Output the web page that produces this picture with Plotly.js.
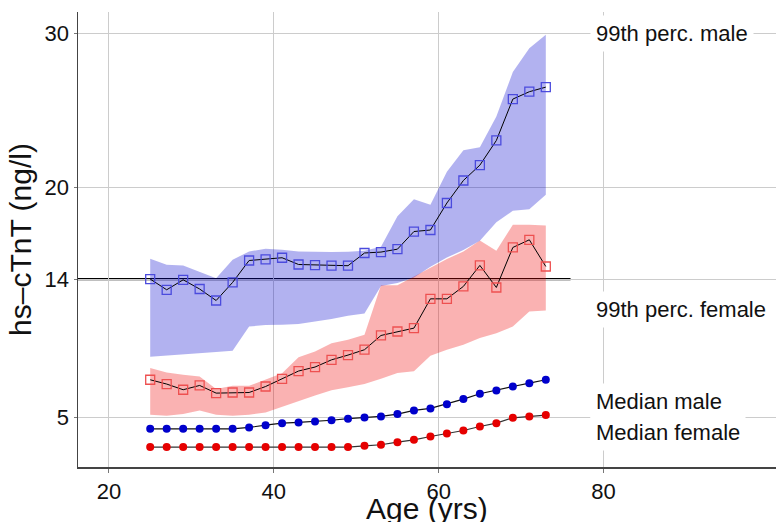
<!DOCTYPE html>
<html>
<head>
<meta charset="utf-8">
<script src="https://cdn.plot.ly/plotly-3.0.1.min.js"></script>
<style>html,body{margin:0;padding:0;background:#fff;}#chart{width:776px;height:522px;}</style>
</head>
<body>
<div id="chart"></div>
<script>
// Age groups (years)
const ages = [25,27,29,31,33,35,37,39,41,43,45,47,49,51,53,55,57,59,61,63,65,67,69,71,73];

// 99th percentile, male (ng/l) with confidence band
const male99 = [14.0,13.3,13.95,13.35,12.6,13.78,15.21,15.28,15.39,14.95,14.91,14.87,14.87,15.7,15.76,15.95,17.1,17.2,18.96,20.43,21.43,23.04,25.74,26.22,26.52];
const male99Hi = [15.32,14.93,14.89,14.5,14.06,15.26,15.8,15.97,15.91,15.8,15.76,15.76,15.78,15.85,16.1,18.1,19.2,18.85,21.0,22.4,22.6,24.6,27.5,29.05,29.93];
const male99Lo = [8.93,9.01,9.08,9.17,9.24,9.32,10.9,11.0,11.02,11.06,11.23,11.4,11.6,11.75,13.55,13.75,14.1,14.8,15.4,15.9,16.5,17.7,18.45,18.55,19.5];

// 99th percentile, female (ng/l) with confidence band
const female99 = [7.43,7.15,6.78,7.06,6.56,6.6,6.6,6.99,7.49,8.0,8.26,8.73,9.04,9.39,10.32,10.58,10.8,12.71,12.71,13.52,14.89,13.45,16.06,16.56,14.82];
const female99Hi = [8.19,7.91,7.76,7.65,6.82,7.04,7.04,7.43,7.85,8.9,9.28,9.82,10.04,10.36,13.6,13.6,14.17,14.78,15.3,15.8,16.52,15.84,17.54,17.54,17.5];
const female99Lo = [5.15,5.08,5.2,5.43,5.15,5.08,5.15,5.3,5.65,6.05,6.4,6.75,6.95,7.15,7.5,7.87,7.98,9.0,9.39,9.71,10.15,10.47,10.9,11.88,11.95];

// Medians (ng/l)
const maleMedian = [4.23,4.24,4.24,4.23,4.23,4.23,4.32,4.47,4.6,4.65,4.71,4.79,4.89,4.97,5.04,5.19,5.43,5.56,5.84,6.17,6.52,6.73,6.99,7.21,7.43];
const femaleMedian = [3.04,3.04,3.04,3.04,3.04,3.04,3.04,3.04,3.04,3.04,3.04,3.04,3.04,3.12,3.19,3.36,3.51,3.73,3.93,4.12,4.38,4.6,4.95,5.04,5.13];

// Reference cut-off and labels
const cutoff = 14;
const cutoffEnd = 76;
const xTicks = [20,40,60,80];
const yTicks = [5,14,20,30];
const labels = ["99th perc. male","99th perc. female","Median male","Median female"];
const labelY = [30,12.0,6.0,3.97];
const labelX = 78.4;
const xTitle = 'Age (yrs)';
const yTitle = 'hs\u2013cTnT (ng/l)';

const revAges = ages.slice().reverse();
function band(hi, lo, color){
  return {x: ages.concat(revAges), y: hi.concat(lo.slice().reverse()), type:'scatter', mode:'lines',
    fill:'toself', fillcolor: color, line:{width:0}, hoverinfo:'skip', showlegend:false};
}
const traces = [
  band(female99Hi, female99Lo, 'rgba(238,0,0,0.3)'),
  band(male99Hi, male99Lo, 'rgba(0,0,205,0.3)'),
  {x: ages, y: male99, type:'scatter', mode:'lines+markers', showlegend:false,
    line:{color:'#000', width:1}, marker:{symbol:'square-open', size:9, color:'#4b4bdd', line:{width:1.3, color:'#4b4bdd'}}},
  {x: ages, y: female99, type:'scatter', mode:'lines+markers', showlegend:false,
    line:{color:'#000', width:1}, marker:{symbol:'square-open', size:9, color:'#ee5050', line:{width:1.3, color:'#ee5050'}}},
  {x: ages, y: maleMedian, type:'scatter', mode:'lines+markers', showlegend:false,
    line:{color:'#111', width:1.2}, marker:{symbol:'circle', size:8, color:'#0000cc'}},
  {x: ages, y: femaleMedian, type:'scatter', mode:'lines+markers', showlegend:false,
    line:{color:'#333', width:1.2}, marker:{symbol:'circle', size:8, color:'#e60000'}}
];

const font = 'Arial, "Liberation Sans", Helvetica, sans-serif';
const annots = labels.map((t,i)=>({x:labelX, y:labelY[i], xref:'x', yref:'y', text:t, showarrow:false,
    xanchor:'left', yanchor:'middle', bgcolor:'#fff', borderpad:5, font:{size:22, family:font, color:'#111'}}));
annots.push({x:0.5, y:-0.091, xref:'paper', yref:'paper', text:xTitle, showarrow:false,
    xanchor:'center', yanchor:'middle', borderpad:0, font:{size:30, family:font, color:'#111'}});
const layout = {
  width:776, height:522,
  margin:{l:78, r:0, t:12, b:55},
  paper_bgcolor:'#fff', plot_bgcolor:'#fff',
  font:{family:font, color:'#111'},
  xaxis:{range:[16.24,100.93], tickvals:xTicks, ticktext:xTicks.map(String), showgrid:true, gridcolor:'#cccccc', gridwidth:1,
    zeroline:false, showline:true, linecolor:'#444', linewidth:1.5, ticks:'outside', ticklen:4, tickcolor:'#777',
    tickfont:{size:22, family:font, color:'#111'}, automargin:false},
  yaxis:{range:[1.74,31.42], tickvals:yTicks, ticktext:yTicks.map(String), showgrid:true, gridcolor:'#cccccc', gridwidth:1,
    zeroline:false, showline:true, linecolor:'#444', linewidth:1.5, ticks:'outside', ticklen:3, tickcolor:'#777',
    tickfont:{size:22, family:font, color:'#111'}, automargin:false,
    title:{text:yTitle, font:{size:30, family:font, color:'#111'}, standoff:4}},
  shapes:[{type:'line', xref:'x', yref:'y', x0:16.24, x1:cutoffEnd, y0:cutoff, y1:cutoff, layer:'below',
    line:{color:'#000', width:2.2}}],
  annotations: annots,
  showlegend:false
};
Plotly.newPlot('chart', traces, layout, {displayModeBar:false, staticPlot:true});
</script>
</body>
</html>
